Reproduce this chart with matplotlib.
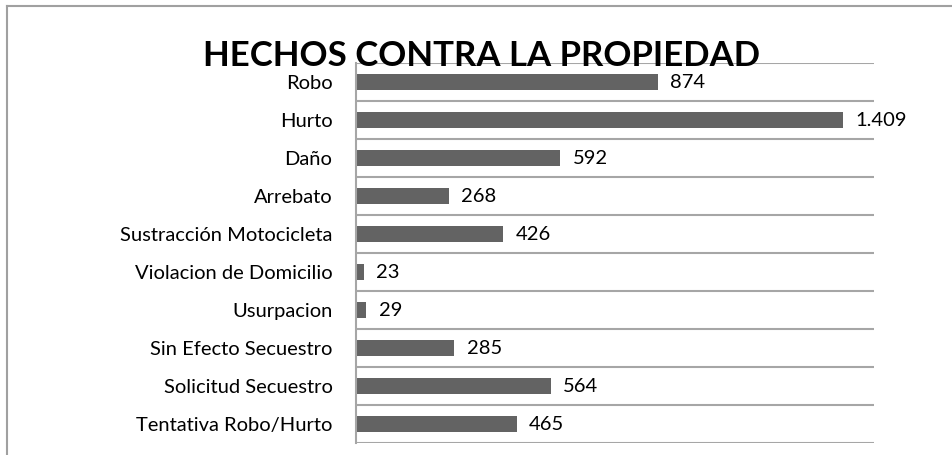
import matplotlib.pyplot as plt
from matplotlib.lines import Line2D

# data
categorias = ['Robo', 'Hurto', 'Daño', 'Arrebato', 'Sustracción Motocicleta',
              'Violacion de Domicilio', 'Usurpacion', 'Sin Efecto Secuestro',
              'Solicitud Secuestro', 'Tentativa Robo/Hurto']
valores = [874, 1409, 592, 268, 426, 23, 29, 285, 564, 465]
etiquetas = ['874', '1.409', '592', '268', '426', '23', '29', '285', '564', '465']

plt.rcParams['font.family'] = ['Lato', 'DejaVu Sans']

fig = plt.figure(figsize=(9.52, 4.55), dpi=100)
ax = fig.add_axes([356/952, 1 - 443/455, (874 - 356)/952, (443 - 63)/455])

pos = list(range(len(categorias)))
ax.barh(pos, valores, height=0.4, color='#636363')
ax.set_ylim(len(categorias) - 0.5, -0.5)
ax.set_xlim(0, 1500)

for i, (v, t) in enumerate(zip(valores, etiquetas)):
    ax.annotate(t, (v, i), xytext=(9, 0), textcoords='offset points',
                va='center', ha='left', fontsize=14.5, color='black')

# separators between categories
for b in range(len(categorias) + 1):
    ax.axhline(b - 0.5, color='#a6a6a6', lw=1.5, zorder=0)

ax.set_yticks(pos)
ax.set_yticklabels(categorias, fontsize=14.5)
ax.tick_params(axis='y', length=0, pad=17)
ax.set_xticks([])
for s in ['top', 'right', 'bottom']:
    ax.spines[s].set_visible(False)
ax.spines['left'].set_color('#a6a6a6')
ax.spines['left'].set_linewidth(1.5)

fig.text(482/952, 1 - 66/455, 'HECHOS CONTRA LA PROPIEDAD', ha='center',
         va='baseline', fontsize=25, fontweight='bold')

# outer frame of the chart area
fig.add_artist(Line2D([6.5/952, 6.5/952], [0, 1 - 5.5/455], color='#a0a0a0', lw=1.5))
fig.add_artist(Line2D([6.5/952, 1], [1 - 5.5/455, 1 - 5.5/455], color='#a0a0a0', lw=1.5))

fig.savefig('out.png', dpi=100)
